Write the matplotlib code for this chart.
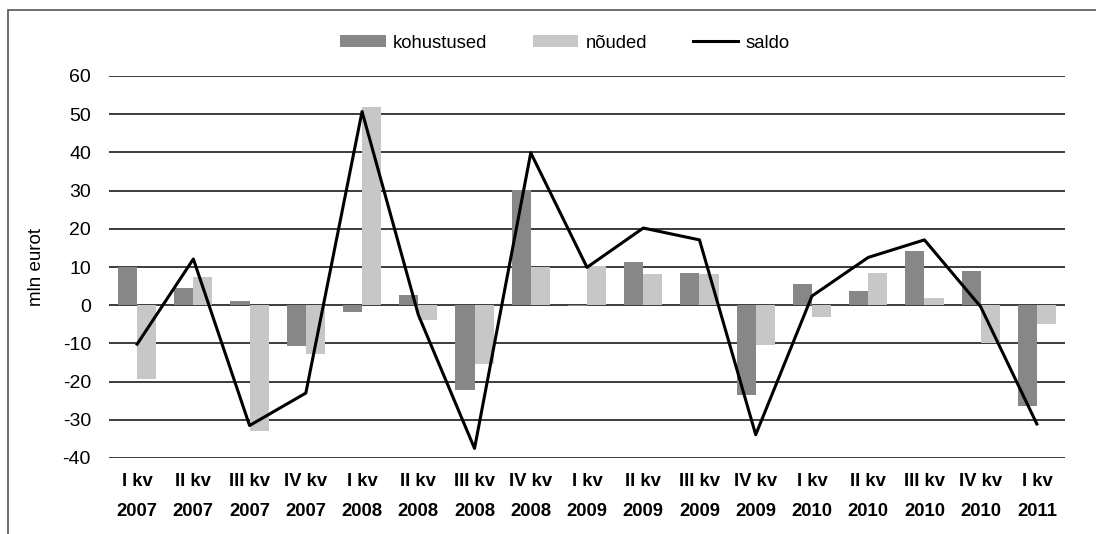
import numpy as np
import matplotlib
matplotlib.use("Agg")
import matplotlib.pyplot as plt
from matplotlib.patches import Rectangle

plt.rcParams["font.family"] = ["Liberation Sans", "DejaVu Sans"]
plt.rcParams["axes.unicode_minus"] = False

# --- data (mln eurot) ---
quarters = ["I kv\n2007", "II kv\n2007", "III kv\n2007", "IV kv\n2007",
            "I kv\n2008", "II kv\n2008", "III kv\n2008", "IV kv\n2008",
            "I kv\n2009", "II kv\n2009", "III kv\n2009", "IV kv\n2009",
            "I kv\n2010", "II kv\n2010", "III kv\n2010", "IV kv\n2010",
            "I kv\n2011"]
kohustused = [10.0, 4.5, 1.1, -10.6, -1.7, 2.7, -22.2, 30.2, -0.2,
              11.4, 8.5, -23.5, 5.6, 3.7, 14.2, 9.0, -26.3]
nouded = [-19.3, 7.4, -32.9, -12.8, 51.8, -3.8, -15.4, 10.0, 10.3,
          8.2, 8.2, -10.4, -3.2, 8.5, 1.9, -9.8, -4.9]
saldo = [-10.2, 12.1, -31.5, -23.0, 50.7, -2.5, -37.5, 39.9, 9.9,
         20.2, 17.1, -33.9, 2.4, 12.5, 17.1, -0.4, -31.1]
yticks = [-40, -30, -20, -10, 0, 10, 20, 30, 40, 50, 60]

W, H = 1096, 534
fig = plt.figure(figsize=(W / 100, H / 100), dpi=100)

# outer frame (cut at right and bottom like in the source)
fig.patches.append(Rectangle((8 / W, -0.05), 1.1, 1 - 10 / H + 0.05,
                             transform=fig.transFigure, fill=False,
                             edgecolor="#555555", linewidth=1.2))

left, right, top, bottom = 109, 1065, 76, 458
ax = fig.add_axes([left / W, 1 - bottom / H, (right - left) / W, (bottom - top) / H])

x = np.arange(len(quarters))
bw = 0.34
ax.bar(x - bw / 2, kohustused, bw, color="#878787", label="kohustused", zorder=2)
ax.bar(x + bw / 2, nouded, bw, color="#c6c7c8", label="nõuded", zorder=2)
ax.plot(x, saldo, color="black", linewidth=2.2, label="saldo", zorder=3)

ax.set_xlim(-0.5, len(quarters) - 0.5)
ax.set_ylim(-40, 60)
ax.set_yticks(yticks)
for yv in yticks:
    ax.axhline(yv, color="#1a1a1a", linewidth=1.2, zorder=1)

ax.set_xticks(x)
ax.set_xticklabels(quarters, fontsize=13.3, fontweight="bold", linespacing=1.95)
ax.tick_params(axis="y", labelsize=14, length=0, pad=13)
ax.tick_params(axis="x", length=0, pad=11)
for s in ax.spines.values():
    s.set_visible(False)
ax.set_ylabel("mln eurot", fontsize=13.5)
ax.yaxis.set_label_coords((45 - left) / (right - left), 0.5)

handles, labels = ax.get_legend_handles_labels()
order = [1, 2, 0]
fig.legend([handles[i] for i in order], [labels[i] for i in order],
           loc="center", bbox_to_anchor=(565 / W, 1 - 43 / H), ncol=3,
           frameon=False, fontsize=13.3, handlelength=2.45, handleheight=0.6,
           handletextpad=0.38, columnspacing=2.5)

fig.savefig("out.png", dpi=100)
